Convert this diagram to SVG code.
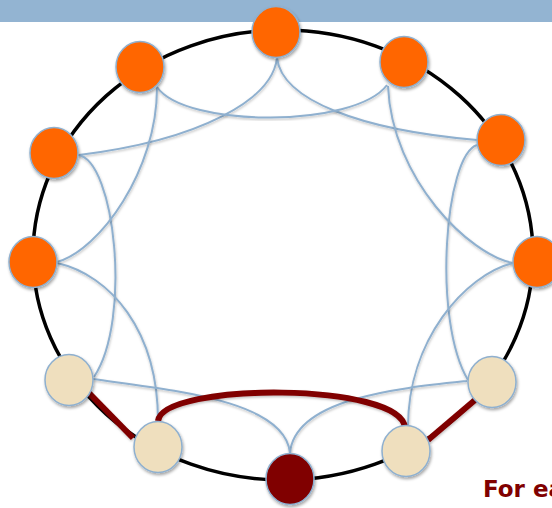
<svg xmlns="http://www.w3.org/2000/svg" width="552" height="508" viewBox="0 0 552 508">
<style>
.bar{fill:#93b4d2}
.ring{fill:none;stroke:#000;stroke-width:3.5}
.link{fill:none;stroke:#8fb0cf;stroke-width:2;filter:url(#ls)}
.red{fill:none;stroke:#800000;stroke-width:6;filter:url(#ls)}
.node{stroke:#8fb0cf;stroke-width:1.5;filter:url(#ns)}
.o{fill:#ff6600}
.b{fill:#efdfbe}
.d{fill:#800000}
.lbl{font-family:"DejaVu Sans",sans-serif;font-weight:bold;font-size:23px;fill:#800000}
</style>
<defs>
<filter id="ns" x="-30%" y="-30%" width="160%" height="160%"><feDropShadow dx="1" dy="2" stdDeviation="1.5" flood-color="#000" flood-opacity="0.35"/></filter>
<filter id="ls" x="-10%" y="-10%" width="120%" height="120%"><feDropShadow dx="0.5" dy="1.5" stdDeviation="1" flood-color="#000" flood-opacity="0.25"/></filter>
</defs>
<rect class="bar" x="0" y="0" width="552" height="22"/>
<ellipse class="ring" cx="283" cy="255" rx="250" ry="225"/>
<g id="connectors">
<path class="link" d="M277,58 C272,100 200,140 79,155"/>
<path class="link" d="M277,58 C282,100 360,130 477,140"/>
<path class="link" d="M157,87 C185,128 355,128 387,85"/>
<path class="link" d="M78,155 C115,160 132,320 94,377"/>
<path class="link" d="M57,263 C110,275 158,330 158,421"/>
<path class="link" d="M57,262 C100,250 157,170 157,88"/>
<path class="link" d="M477,145 C445,155 432,320 468,380"/>
<path class="link" d="M513,263 C470,255 392,180 388,86"/>
<path class="link" d="M513,263 C465,275 408,340 408,427"/>
<path class="link" d="M467,381 C400,388 295,398 290,453"/>
<path class="link" d="M93,379 C170,390 285,400 290,453"/>
<path class="red" d="M158,421 C163,382 402,382 405,428"/>
<path class="red" d="M88,392 L133,438"/>
<path class="red" d="M475,400 L428,440"/>
</g>
<g id="n-top"><ellipse class="node o" cx="276" cy="32" rx="24" ry="25.5"/></g>
<g id="n-ur"><ellipse class="node o" cx="404" cy="62" rx="24" ry="25.5"/></g>
<g id="n-r1"><ellipse class="node o" cx="501" cy="140" rx="24" ry="25.5"/></g>
<g id="n-r2"><ellipse class="node o" cx="537" cy="262" rx="24" ry="25.5"/></g>
<g id="n-c"><ellipse class="node b" cx="492" cy="382" rx="24" ry="25.5"/></g>
<g id="n-d"><ellipse class="node b" cx="406" cy="451" rx="24" ry="25.5"/></g>
<g id="n-bot"><ellipse class="node d" cx="290" cy="479" rx="24" ry="25.5"/></g>
<g id="n-b"><ellipse class="node b" cx="158" cy="447" rx="24" ry="25.5"/></g>
<g id="n-a"><ellipse class="node b" cx="69" cy="380" rx="24" ry="25.5"/></g>
<g id="n-l2"><ellipse class="node o" cx="33" cy="262" rx="24" ry="25.5"/></g>
<g id="n-l1"><ellipse class="node o" cx="54" cy="153" rx="24" ry="25.5"/></g>
<g id="n-ul"><ellipse class="node o" cx="140" cy="67" rx="24" ry="25.5"/></g>
<text class="lbl" x="483" y="497">For ea</text>
</svg>
